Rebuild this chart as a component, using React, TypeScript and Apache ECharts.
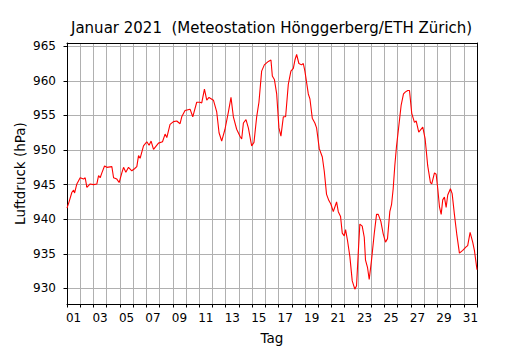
import React, { useEffect, useRef } from 'react';
import * as echarts from 'echarts';

const TITLE = 'Januar 2021  (Meteostation Hönggerberg/ETH Zürich)';
const X_NAME = 'Tag';
const Y_NAME = 'Luftdruck (hPa)';

// hours since 1 Jan 2021 00:00
const hours = [
  0, 2.9, 8.9, 12.0, 13.8, 17.9, 23.9, 30.1, 33.0, 36.1, 42.0, 48.2, 54.2, 57.3, 60.2, 63.3, 68.1, 72.3, 81.4, 84.5,
  90.4, 94.6, 99.5, 102.6, 106.8, 111.6, 117.6, 122.5, 126.7, 129.8, 132.7, 138.8, 144.8, 149.0, 152.6, 157.0, 166.0, 173.3, 178.0, 181.1,
  187.0, 193.2, 199.2, 205.2, 208.2, 214.2, 223.3, 228.2, 235.4, 241.4, 244.5, 249.4, 253.6, 257.7, 265.7, 271.7, 275.9, 280.7, 286.7, 292.9,
  297.6, 301.9, 307.9, 313.9, 317.0, 320.1, 324.8, 329.1, 335.1, 339.3, 344.2, 348.3, 353.2, 358.1, 365.4, 370.1, 372.6, 376.3, 380.5, 384.6,
  388.2, 392.6, 396.7, 401.6, 406.3, 410.7, 413.6, 416.7, 420.8, 425.7, 428.8, 431.7, 437.9, 440.8, 445.1, 449.8, 452.9, 457.8, 463.3, 466.9,
  471.0, 475.2, 478.8, 483.2, 489.2, 492.3, 496.4, 499.5, 503.1, 505.5, 509.1, 513.3, 517.6, 522.3, 525.4, 528.5, 531.4, 535.7, 539.4, 541.7,
  545.4, 548.4, 552.6, 557.5, 561.7, 564.8, 569.5, 573.8, 578.0, 581.6, 585.8, 588.9, 591.9, 594.8, 597.9, 606.4, 610.6, 614.2, 618.4, 621.5,
  625.6, 630.5, 633.6, 638.3, 645.6, 649.9, 654.6, 659.5, 661.9, 666.8, 669.9, 672.8, 675.9, 679.0, 681.8, 684.9, 688.0, 690.9, 695.8, 698.9,
  703.0, 707.2, 712.1, 718.1, 724.2, 727.1, 731.5, 736.2, 739.3, 744,
];

// air pressure in hPa
const pressure = [
  941.6, 942.3, 943.9, 944.2, 943.8, 945.1, 946.0, 945.8, 946.0, 944.6, 945.1, 945.0, 945.1, 946.3, 946.0, 946.7, 947.7, 947.5, 947.6, 946.0,
  945.8, 945.3, 946.7, 947.5, 946.8, 947.5, 947.0, 947.3, 947.6, 949.2, 948.8, 950.6, 951.2, 950.7, 951.3, 950.1, 951.0, 951.2, 952.3, 951.8,
  953.7, 954.1, 954.2, 953.8, 954.8, 955.7, 955.9, 954.8, 956.9, 956.9, 956.8, 958.8, 957.2, 957.6, 957.2, 955.5, 952.5, 951.3, 953.0, 955.5,
  957.6, 954.8, 953.0, 952.0, 951.6, 953.9, 954.4, 953.2, 950.6, 951.1, 954.8, 956.9, 961.4, 962.3, 962.8, 963.0, 960.7, 960.2, 958.1, 953.2,
  952.0, 954.8, 954.8, 959.5, 961.4, 961.8, 963.0, 963.8, 962.5, 962.3, 962.5, 961.4, 958.1, 957.4, 954.6, 953.9, 953.2, 950.2, 949.0, 946.9,
  943.6, 942.7, 942.2, 941.1, 942.5, 941.1, 940.4, 938.0, 937.6, 938.5, 936.9, 934.6, 931.1, 929.9, 930.4, 935.1, 939.3, 939.0, 937.4, 934.1,
  933.0, 931.3, 934.1, 937.9, 940.7, 940.7, 939.7, 937.9, 936.7, 937.2, 941.1, 942.1, 944.4, 947.7, 950.5, 956.5, 958.1, 958.4, 958.6, 958.6,
  955.3, 954.0, 954.2, 952.6, 953.3, 951.6, 947.7, 945.3, 945.1, 946.7, 946.5, 944.4, 941.8, 940.7, 942.8, 943.2, 941.7, 943.5, 944.4, 943.7,
  940.7, 937.9, 935.1, 935.5, 936.0, 936.2, 938.1, 936.7, 935.5, 932.7,
];

const dayLabels = ['01', '03', '05', '07', '09', '11', '13', '15', '17', '19', '21', '23', '25', '27', '29', '31'];
const yTicks = [930, 935, 940, 945, 950, 955, 960, 965];

const FONT = 'DejaVu Sans';

export default function App() {
  const ref = useRef<HTMLDivElement>(null);
  useEffect(() => {
    document.body.style.margin = '0';
    if (!ref.current) return;
    const chart = echarts.init(ref.current, null, { renderer: 'svg' });
    const labelHours = dayLabels.map((d) => (parseInt(d, 10) - 1) * 24 + 12);
    chart.setOption({
      animation: false,
      backgroundColor: '#fff',
      title: {
        text: TITLE,
        left: 66,
        top: 15,
        textStyle: { fontFamily: FONT, fontSize: 15, fontWeight: 'normal', color: '#000' },
      },
      grid: { left: 67, right: 53, top: 43, bottom: 38, show: false },
      xAxis: [
        {
          type: 'value',
          min: 0,
          max: 744,
          interval: 24,
          name: X_NAME,
          nameLocation: 'middle',
          nameGap: 27,
          nameTextStyle: { fontFamily: FONT, fontSize: 13.5, color: '#000' },
          axisLine: { show: true, lineStyle: { color: '#000', width: 1 } },
          axisTick: { show: true, length: 3.5, lineStyle: { color: '#000', width: 1 } },
          axisLabel: {
            customValues: labelHours,
            formatter: (v: number) => String(Math.floor(v / 24) + 1).padStart(2, '0'),
            fontFamily: FONT,
            fontSize: 12,
            color: '#000',
            margin: 8,
          },
          splitLine: { show: true, lineStyle: { color: '#b0b0b0', width: 1 } },
        },
        {
          type: 'value',
          position: 'top',
          min: 0,
          max: 744,
          axisLine: { show: true, onZero: false, lineStyle: { color: '#000', width: 1 } },
          axisTick: { show: false },
          axisLabel: { show: false },
          splitLine: { show: false },
        },
      ],
      yAxis: [
        {
          type: 'value',
          min: 927.76,
          max: 965.46,
          name: Y_NAME,
          nameLocation: 'middle',
          nameGap: 40,
          nameMoveOverlap: false,
          nameTextStyle: { fontFamily: FONT, fontSize: 13.5, color: '#000' },
          axisLine: { show: true, onZero: false, lineStyle: { color: '#000', width: 1 } },
          axisTick: { show: true, length: 3.5, customValues: yTicks, lineStyle: { color: '#000', width: 1 } },
          axisLabel: { customValues: yTicks, fontFamily: FONT, fontSize: 12, color: '#000', margin: 11 },
          splitLine: { show: true, lineStyle: { color: '#b0b0b0', width: 1 } },
        },
        {
          type: 'value',
          position: 'right',
          min: 927.76,
          max: 965.46,
          axisLine: { show: true, onZero: false, lineStyle: { color: '#000', width: 1 } },
          axisTick: { show: false },
          axisLabel: { show: false },
          splitLine: { show: false },
        },
      ],
      series: [
        {
          type: 'line',
          xAxisIndex: 0,
          yAxisIndex: 0,
          data: hours.map((h, i) => [h, pressure[i]]),
          showSymbol: false,
          symbol: 'none',
          lineStyle: { color: '#ff0000', width: 1.1 },
          clip: true,
        },
      ],
    });
    return () => chart.dispose();
  }, []);
  return <div ref={ref} style={{ width: 530, height: 350 }} />;
}
